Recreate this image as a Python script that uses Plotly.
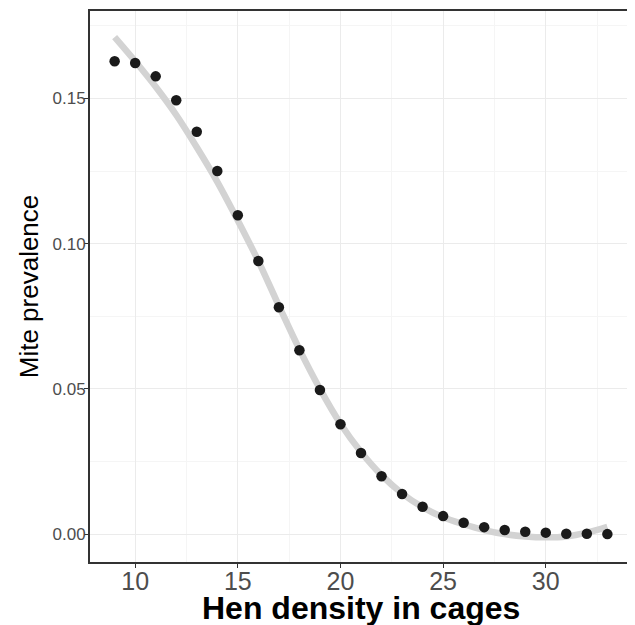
import plotly.graph_objects as go

hen_density = [9, 10, 11, 12, 13, 14, 15, 16, 17, 18, 19, 20, 21,
               22, 23, 24, 25, 26, 27, 28, 29, 30, 31, 32, 33]
mite_prevalence = [0.1628, 0.1622, 0.1576, 0.1494, 0.1385, 0.1250, 0.1098,
                   0.0940, 0.0781, 0.0633, 0.0496, 0.0378, 0.0279, 0.0199,
                   0.0138, 0.0094, 0.0062, 0.0039, 0.0024, 0.0014, 0.0008,
                   0.0005, 0.0001, 0.0001, 0.0000]
smooth_fit = [0.1711, 0.1628, 0.1540, 0.1443, 0.1332, 0.1213, 0.1080,
              0.0940, 0.0786, 0.0636, 0.0500, 0.0380, 0.0283, 0.0203,
              0.0140, 0.0093, 0.0058, 0.0034, 0.0014, 0.0000, -0.0008,
              -0.0011, -0.0008, 0.0005, 0.0025]
x_ticks = [10, 15, 20, 25, 30]
y_ticks = [0.00, 0.05, 0.10, 0.15]
y_tick_labels = ["0.00", "0.05", "0.10", "0.15"]
x_title = "Hen density in cages"
y_title = "Mite prevalence"

fig = go.Figure()
fig.add_trace(go.Scatter(
    x=hen_density, y=smooth_fit, mode="lines",
    line=dict(color="#D3D3D3", width=6.5, shape="spline", smoothing=1.0),
    hoverinfo="skip", showlegend=False))
fig.add_trace(go.Scatter(
    x=hen_density, y=mite_prevalence, mode="markers",
    marker=dict(color="#1A1A1A", size=10.5, line=dict(width=0)),
    showlegend=False))

FONT = "Liberation Sans, Arial, sans-serif"
# the page body adds an 8px offset, so the figure is 8px smaller each way
fig.update_layout(
    width=627, height=617,
    margin=dict(l=82, r=3, t=3, b=63, autoexpand=False),
    paper_bgcolor="white", plot_bgcolor="white",
    font=dict(family=FONT),
    annotations=[
        dict(text="<b>" + x_title + "</b>", xref="paper", yref="paper",
             x=0.5, y=-0.083, xanchor="center", yanchor="middle",
             showarrow=False, font=dict(size=32, color="#000000", family=FONT)),
        dict(text=y_title, xref="paper", yref="paper",
             x=-0.113, y=0.5, xanchor="center", yanchor="middle", textangle=-90,
             showarrow=False, font=dict(size=26, color="#000000", family=FONT)),
    ],
)
fig.update_xaxes(
    range=[7.8, 34.2], tickvals=x_ticks, ticktext=[str(v) for v in x_ticks],
    showgrid=True, gridcolor="#EBEBEB", gridwidth=1.4,
    minor=dict(dtick=2.5, tick0=0, showgrid=True, gridcolor="#F5F5F5", gridwidth=0.8),
    showline=True, linecolor="#333333", linewidth=1.8, mirror=True,
    ticks="outside", ticklen=4, tickwidth=1.4, tickcolor="#333333",
    tickfont=dict(size=25, color="#4D4D4D"), ticklabelstandoff=-8,
    automargin=False, zeroline=False,
)
fig.update_yaxes(
    range=[-0.0096, 0.1801], tickvals=y_ticks, ticktext=y_tick_labels,
    showgrid=True, gridcolor="#EBEBEB", gridwidth=1.4,
    minor=dict(dtick=0.025, tick0=0, showgrid=True, gridcolor="#F5F5F5", gridwidth=0.8),
    showline=True, linecolor="#333333", linewidth=1.8, mirror=True,
    ticks="outside", ticklen=4, tickwidth=1.4, tickcolor="#333333",
    tickfont=dict(size=17, color="#4D4D4D"), ticklabelstandoff=-5,
    automargin=False, zeroline=False,
)

fig.write_html("out.html")
